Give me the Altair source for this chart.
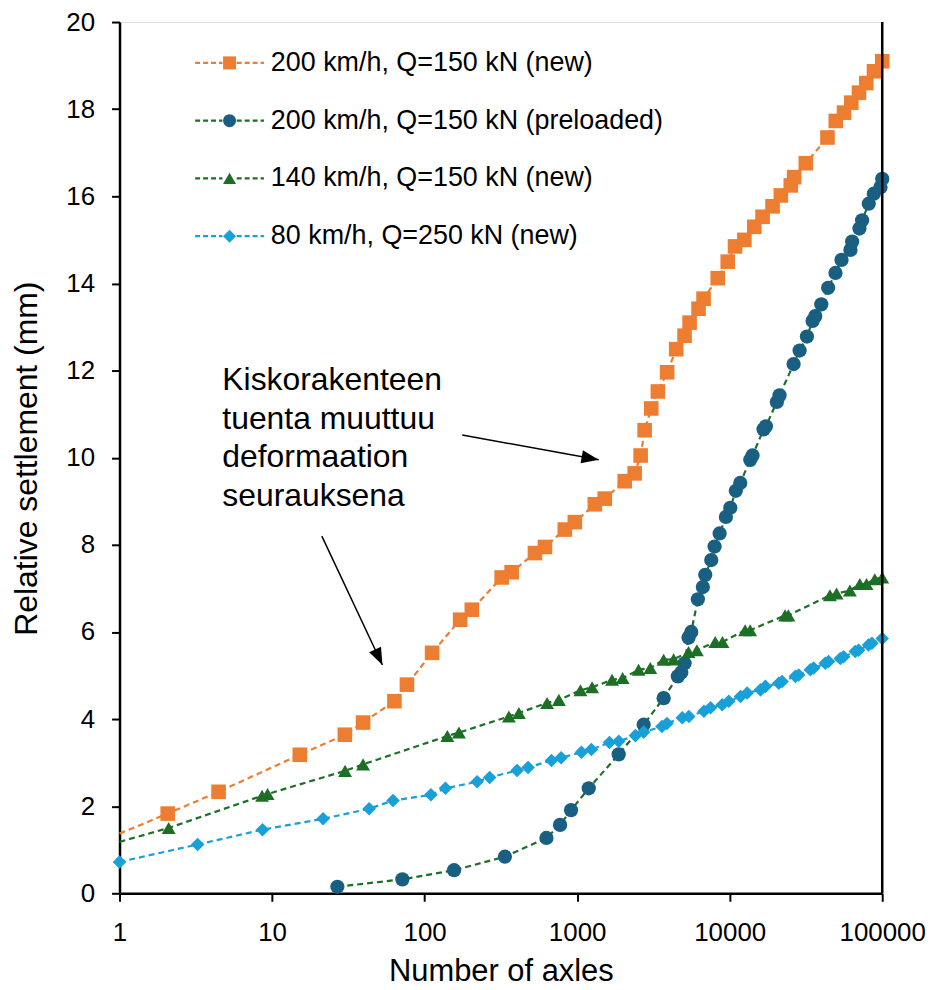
import math
import altair as alt
import pandas as pd

FONT = "Liberation Sans"
W, H = 766, 875

series_names = [
    "200 km/h, Q=150 kN (new)",
    "200 km/h, Q=150 kN (preloaded)",
    "140 km/h, Q=150 kN (new)",
    "80 km/h, Q=250 kN (new)",
]
marker_colors = ["#ED7D31", "#185F82", "#1D6F25", "#18A0D8"]
line_colors = ["#ED7D31", "#1D6F25", "#1D6F25", "#18A0D8"]
marker_shapes = ["square", "circle", "triangle-up", "diamond"]
marker_keys = ["sq", "ci", "tr", "di"]
marker_sizes = [215, 185, 260, 185]

# 200 km/h, Q=150 kN (new)
new200_axles = [2.07, 4.46, 15.2, 30, 39.5, 63.4, 76.6, 112, 171, 204, 320, 372, 529, 615,
                830, 966, 1306, 1517, 2050, 2383, 2608, 2770, 3060, 3383, 3890, 4460, 5060,
                5460, 6250, 6740, 8350, 9710, 10840, 12480, 14500, 16430, 19100, 21640, 25150,
                26460, 31550, 43750, 49600, 56200, 62700, 70400, 78600, 88300, 100000]
new200_settl = [1.83, 2.33, 3.18, 3.64, 3.92, 4.41, 4.79, 5.52, 6.28, 6.51, 7.25, 7.37, 7.81, 7.95,
                8.35, 8.52, 8.93, 9.06, 9.46, 9.64, 10.05, 10.63, 11.13, 11.52, 11.96, 12.49, 12.80,
                13.10, 13.42, 13.65, 14.12, 14.50, 14.85, 15.00, 15.30, 15.53, 15.77, 16.02, 16.25,
                16.44, 16.76, 17.35, 17.73, 17.92, 18.15, 18.38, 18.60, 18.87, 19.10]
new200_line_start = (1, 1.37)

# 200 km/h, Q=150 kN (preloaded)
pre200_axles = [26.8, 71.5, 156, 336, 629, 773, 912, 1191, 1872, 2729, 3690, 4575, 4815, 5060,
                5375, 5600, 6185, 6670, 6915, 7570, 7960, 8590, 9440, 10090, 10970, 11730, 13640,
                14120, 16670, 17270, 20380, 21230, 26240, 28730, 32090, 34960, 36400, 39860,
                44200, 49400, 54100, 61900, 63500, 70900, 73800, 81600, 88100, 97400, 100000]
pre200_settl = [0.15, 0.32, 0.53, 0.84, 1.27, 1.57, 1.91, 2.41, 3.19, 3.87, 4.48, 4.98, 5.07, 5.28,
                5.87, 6.00, 6.75, 7.03, 7.31, 7.65, 7.96, 8.26, 8.64, 8.85, 9.24, 9.42, 9.95,
                10.05, 10.65, 10.72, 11.28, 11.43, 12.15, 12.46, 12.78, 13.14, 13.25, 13.52,
                13.90, 14.24, 14.54, 14.77, 14.96, 15.26, 15.45, 15.83, 16.06, 16.21, 16.40]

# 140 km/h, Q=150 kN (new)
new140_axles = [2.1, 8.6, 9.35, 30.1, 39.5, 141, 168, 357, 415, 635, 759, 1051, 1253, 1694, 1988,
                2528, 3016, 3690, 4290, 5375, 6093, 8040, 8970, 12620, 13620, 23070, 24250,
                45400, 50200, 61400, 71300, 78900, 89400, 100000]
new140_settl = [1.50, 2.24, 2.28, 2.81, 2.96, 3.61, 3.69, 4.06, 4.14, 4.37, 4.44, 4.66, 4.73, 4.90,
                4.94, 5.13, 5.17, 5.36, 5.37, 5.54, 5.58, 5.77, 5.77, 6.04, 6.04, 6.38, 6.38,
                6.84, 6.88, 6.95, 7.10, 7.10, 7.21, 7.25]
new140_line_start = (1, 1.18)

# 80 km/h, Q=250 kN (new)
new80_axles = [1, 3.25, 8.66, 21.6, 43.3, 62.1, 110, 137, 221, 267, 404, 477, 679, 785, 1067, 1240,
               1628, 1874, 2410, 2730, 3597, 3880, 4890, 5400, 6780, 7490, 8930, 9870, 11770,
               13020, 15920, 17150, 20980, 22060, 26960, 28340, 33770, 35490, 42300, 44500,
               53100, 55800, 66500, 70000, 81300, 85600, 100000]
new80_settl = [0.72, 1.12, 1.46, 1.71, 1.94, 2.13, 2.26, 2.41, 2.56, 2.66, 2.82, 2.89, 3.05, 3.11,
               3.24, 3.30, 3.46, 3.49, 3.62, 3.70, 3.83, 3.90, 4.03, 4.06, 4.18, 4.26, 4.33, 4.41,
               4.52, 4.60, 4.67, 4.75, 4.82, 4.86, 4.98, 5.01, 5.13, 5.17, 5.28, 5.32, 5.39, 5.43,
               5.55, 5.58, 5.70, 5.74, 5.85]

annotation_text = "Kiskorakenteen\ntuenta muuttuu\ndeformaation\nseurauksena"
annotation_pos = (4.72, 11.56)
arrow_starts = [(176.5, 10.52), (21.2, 8.20)]
arrow_tips = [(1385, 9.95), (52.9, 5.24)]

x_ticks = [1, 10, 100, 1000, 10000, 100000]
y_ticks = list(range(0, 21, 2))

# ---- tables ----
line_names = [n + " " for n in series_names]  # separate domain -> separate legend
series_data = [
    (0, new200_axles, new200_settl, new200_line_start),
    (1, pre200_axles, pre200_settl, None),
    (2, new140_axles, new140_settl, new140_line_start),
    (3, new80_axles, new80_settl, None),
]
pt_rows, ln_rows = [], []
for i, xs, ys, start in series_data:
    if start is not None:
        ln_rows.append({"axles": start[0], "settlement": start[1], "lseries": line_names[i]})
    for a, s in zip(xs, ys):
        pt_rows.append({"axles": a, "settlement": s, "series": series_names[i],
                        "mkey": marker_keys[i]})
        ln_rows.append({"axles": a, "settlement": s, "lseries": line_names[i]})
pt_df = pd.DataFrame(pt_rows)
ln_df = pd.DataFrame(ln_rows)


def px(a):
    return W * math.log10(a) / 5.0


def py(v):
    return H * (1 - v / 20.0)


arrow_rows = []
for (a0, s0), (a1, s1) in zip(arrow_starts, arrow_tips):
    dx = px(a1) - px(a0)
    dy = py(s1) - py(s0)
    ang = math.degrees(math.atan2(dx, -dy)) % 360
    arrow_rows.append({"axles": a0, "settlement": s0, "axles_end": a1, "settlement_end": s1,
                       "tip_axles": a1, "tip_settlement": s1, "angle": ang})
arrow_df = pd.DataFrame(arrow_rows)
text_df = pd.DataFrame([{"axles": annotation_pos[0], "settlement": annotation_pos[1],
                         "label": annotation_text}])
edge_df = pd.DataFrame([{"axles": 100000}])

x_scale = alt.Scale(type="log", domain=[1, 100000])
y_scale = alt.Scale(domain=[0, 20], nice=False)

x_axis = alt.Axis(values=x_ticks, format="d", title="Number of axles", grid=False,
                  labelFont=FONT, labelFontSize=26, labelColor="black", labelFlush=False,
                  labelOverlap=False, labelPadding=18,
                  titleFont=FONT, titleFontSize=31, titleFontWeight="normal", titleColor="black",
                  titleY=88, titleBaseline="alphabetic",
                  tickSize=8, tickWidth=2, tickColor="black",
                  domainColor="black", domainWidth=2.5)
y_axis = alt.Axis(values=y_ticks, title="Relative settlement (mm)", grid=False,
                  labelFont=FONT, labelFontSize=26, labelColor="black", labelPadding=17,
                  labelFlush=False, labelOverlap=False,
                  titleFont=FONT, titleFontSize=32, titleFontWeight="normal", titleColor="black",
                  titleX=-83, titleY=438, titleAngle=270, titleBaseline="alphabetic",
                  titleAlign="center",
                  tickSize=8, tickWidth=2, tickColor="black",
                  domainColor="black", domainWidth=2.5)


def X(field="axles"):
    return alt.X(f"{field}:Q", scale=x_scale, axis=x_axis)


def Y(field="settlement"):
    return alt.Y(f"{field}:Q", scale=y_scale, axis=y_axis)


legend_common = dict(orient="none", legendX=97, legendY=27.5, title=None, padding=0,
                     labelFont=FONT, labelFontSize=27, labelOffset=28, rowPadding=30,
                     symbolSize=170, labelLimit=700, labelColor="black")

legend_marks = alt.Legend(symbolStrokeWidth=0, symbolOpacity=1, **legend_common)
legend_lines = alt.Legend(symbolType="M-5.3,0L-1.1,0M1.1,0L5.3,0", symbolStrokeWidth=2.2,
                          symbolDash=[5, 3], symbolFillColor="transparent",
                          labelOpacity=0, **legend_common)

lines = alt.Chart(ln_df).mark_line(strokeDash=[6, 4], strokeWidth=2.2).encode(
    x=X(), y=Y(),
    stroke=alt.Stroke("lseries:N", scale=alt.Scale(domain=line_names, range=line_colors),
                      legend=legend_lines),
)

points = alt.Chart(pt_df).mark_point(filled=True, opacity=1, strokeWidth=0).encode(
    x=X(), y=Y(),
    fill=alt.Fill("series:N", scale=alt.Scale(domain=series_names, range=marker_colors),
                  legend=legend_marks),
    shape=alt.Shape("series:N", scale=alt.Scale(domain=series_names, range=marker_shapes),
                    legend=legend_marks),
    size=alt.Size("mkey:N", scale=alt.Scale(domain=marker_keys, range=marker_sizes),
                  legend=None),
)

edge = alt.Chart(edge_df).mark_rule(color="black", strokeWidth=2.5).encode(x=X())

arrow_lines = alt.Chart(arrow_df).mark_rule(color="black", strokeWidth=1.5).encode(
    x=X(), y=Y(), x2="axles_end:Q", y2="settlement_end:Q")

arrow_heads = alt.Chart(arrow_df).mark_point(
    shape="M0,0L0.76,2L-0.76,2Z", filled=True, color="black", opacity=1, size=300,
    strokeWidth=0).encode(
    x=X("tip_axles"), y=Y("tip_settlement"), angle=alt.Angle("angle:Q", scale=None))

annotation = alt.Chart(text_df).mark_text(
    align="left", baseline="alphabetic", font=FONT, fontSize=32, lineHeight=39,
    color="black", lineBreak="\n").encode(x=X(), y=Y(), text="label:N")

chart = alt.layer(lines, points, edge, arrow_lines, arrow_heads, annotation).properties(
    width=W, height=H,
    autosize=alt.AutoSizeParams(type="none"),
    padding={"left": 112, "top": 12, "right": 53, "bottom": 95},
).configure_view(stroke=None).configure(background="white")

chart.save("out.html", embed_options={"renderer": "svg", "actions": False})
